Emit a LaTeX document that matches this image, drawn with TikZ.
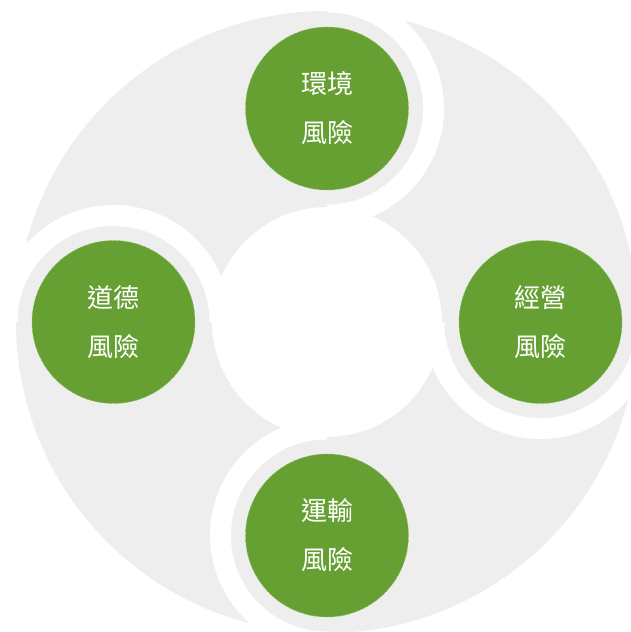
\documentclass[tikz,border=0pt]{standalone}
\usepackage{fontspec}
\newfontfamily\cjk{Noto Sans CJK TC}

\definecolor{ringgray}{HTML}{EEEEEE}
\definecolor{riskgreen}{HTML}{66A033}
\definecolor{riskedge}{HTML}{8CBE5F}

\tikzset{
  riskball/.style={circle, fill=riskgreen, draw=riskedge, densely dashed, line width=0.5pt,
    minimum size=163, inner sep=0pt, text=white, align=center,
    font=\cjk\fontsize{26}{49}\selectfont},
  halo/.style={fill=white},
  headdisc/.style={fill=ringgray}
}

\begin{document}
\begin{tikzpicture}[x=1pt,y=1pt]
	\useasboundingbox (0,0) rectangle (631,632);
	\clip (0,0) rectangle (631,632);
	\begin{scope}[shift={(327,310)}]
	% ring
	\fill[ringgray,even odd rule] (0,0) circle[radius=311] (0,0) circle[radius=115];
	%
	\foreach \ang/\nm/\txt in {90/env/{環境\\風險}, 0/biz/{經營\\風險}, -90/trans/{運輸\\風險}, 180/ethic/{道德\\風險}}{
		\fill[halo] (\ang:213.5) ++(\ang:117) arc[start angle=\ang, end angle=\ang-180, radius=117] -- cycle;
		\fill[headdisc] (\ang:213.5) circle[radius=96];
		\node[riskball] (\nm) at (\ang:213.5) {\txt};
	}
	\end{scope}
\end{tikzpicture}
\end{document}
